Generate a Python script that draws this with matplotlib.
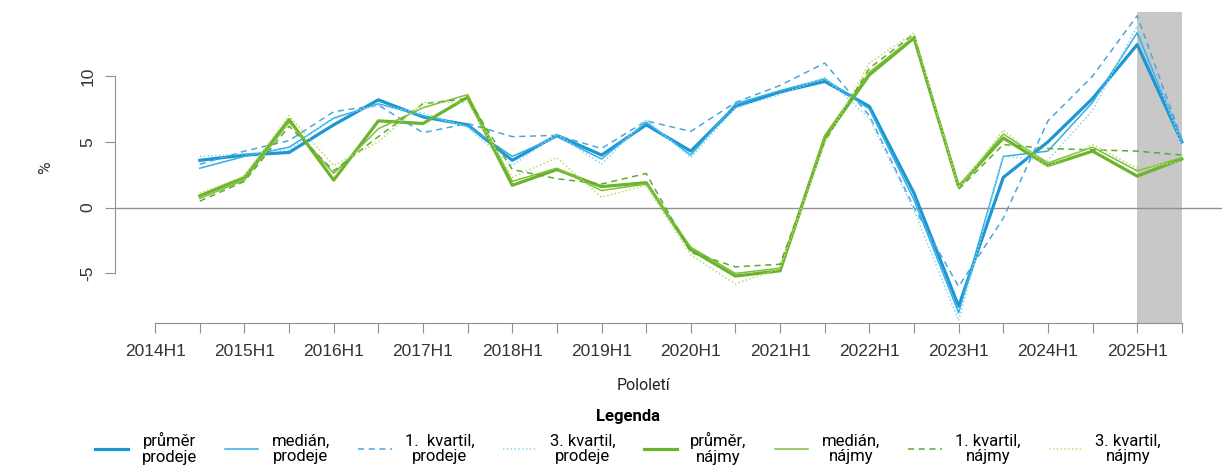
import numpy as np
import matplotlib
matplotlib.use("Agg")
import matplotlib.pyplot as plt

plt.rcParams['font.family'] = ['Roboto', 'DejaVu Sans']

# pololetí od 2014H1 (index 0), data od 2014H2 do 2025H2
obdobi = np.arange(1, 24)
tick_pos = np.arange(0, 24)
tick_labels = [f"{2014 + i // 2}H1" if i % 2 == 0 else "" for i in tick_pos]

prodej_prumer = [3.6, 4.0, 4.2, 6.3, 8.2, 6.9, 6.3, 3.6, 5.5, 4.0, 6.3, 4.3,
                 7.7, 8.8, 9.6, 7.7, 1.1, -7.5, 2.3, 5.0, 8.3, 12.4, 5.0]
prodej_median = [3.0, 3.9, 4.6, 6.8, 7.9, 7.0, 6.2, 3.9, 5.4, 3.7, 6.5, 4.0,
                 7.9, 8.9, 9.8, 7.5, 0.6, -8.0, 3.9, 4.3, 8.0, 13.3, 5.1]
prodej_q1 = [3.3, 4.3, 5.1, 7.3, 7.8, 5.7, 6.4, 5.4, 5.5, 4.5, 6.6, 5.8,
             8.0, 9.3, 11.0, 7.0, 0.0, -6.0, -0.8, 6.6, 10.0, 14.6, 5.2]
prodej_q3 = [3.9, 4.1, 4.4, 6.9, 7.8, 7.2, 6.1, 3.2, 5.6, 3.3, 6.7, 3.8,
             7.6, 8.6, 9.9, 6.8, -0.2, -8.6, 3.9, 3.6, 7.4, 13.8, 4.8]

najem_prumer = [0.9, 2.3, 6.7, 2.1, 6.6, 6.4, 8.4, 1.7, 2.9, 1.6, 1.9, -3.2,
                -5.2, -4.8, 5.3, 10.1, 12.9, 1.6, 5.3, 3.2, 4.3, 2.4, 3.7]
najem_median = [0.7, 2.1, 6.5, 2.6, 6.0, 7.6, 8.6, 2.0, 3.0, 1.3, 1.8, -3.0,
                -5.0, -4.6, 5.5, 10.3, 13.0, 1.6, 5.6, 3.4, 4.6, 2.8, 3.8]
najem_q1 = [0.5, 2.0, 6.2, 2.8, 5.4, 7.9, 8.3, 2.9, 2.2, 1.8, 2.6, -3.4,
            -4.5, -4.3, 5.0, 10.6, 13.2, 1.4, 4.8, 4.5, 4.4, 4.3, 4.0]
najem_q3 = [1.1, 2.4, 7.0, 3.2, 5.0, 8.0, 8.0, 2.3, 3.8, 0.8, 1.7, -3.6,
            -5.8, -4.6, 4.9, 11.0, 13.3, 1.5, 5.9, 3.1, 4.8, 3.0, 3.5]

series = [
    (prodej_prumer, "průměr\nprodeje", "#1c97d4", 2.3, "-"),
    (prodej_median, "medián,\nprodeje", "#33aee3", 1.1, "-"),
    (prodej_q1, "1.  kvartil,\nprodeje", "#4aa6dc", 1.1, (0, (4, 3))),
    (prodej_q3, "3. kvartil,\nprodeje", "#8ad3f2", 1.1, (0, (1, 1.5))),
    (najem_prumer, "průměr,\nnájmy", "#6cb32e", 2.3, "-"),
    (najem_median, "medián,\nnájmy", "#7cc03c", 1.1, "-"),
    (najem_q1, "1. kvartil,\nnájmy", "#5faa2a", 1.1, (0, (4, 3))),
    (najem_q3, "3. kvartil,\nnájmy", "#b9dc6a", 1.1, (0, (1, 1.5))),
]

fig = plt.figure(figsize=(12.25, 4.74), dpi=100)
ax = fig.add_axes([115 / 1225, 1 - 323 / 474, 1107 / 1225, 311 / 474])

ax.axvspan(22, 23, color="#c8c8c8", zorder=0, lw=0)
ax.axhline(0, color="#909090", lw=1, zorder=1)

for vals, lab, col, lw, ls in series:
    ax.plot(obdobi, vals, color=col, lw=lw, ls=ls, label=lab, zorder=3)

ax.set_xlim(-0.9, 23.9)
ax.set_ylim(-8.77, 14.88)

for s in ["top", "right"]:
    ax.spines[s].set_visible(False)
ax.spines["left"].set_bounds(-5, 10)
ax.spines["bottom"].set_bounds(0, 23)
for s in ["left", "bottom"]:
    ax.spines[s].set_color("#909090")

ax.set_xticks(tick_pos)
ax.set_xticklabels(tick_labels, family=["Liberation Sans", "DejaVu Sans"])
ax.set_yticks([-5, 0, 5, 10])
ax.set_yticklabels(["-5", "0", "5", "10"], rotation=90, va="center",
                   family=["Liberation Sans", "DejaVu Sans"])
ax.tick_params(axis="both", colors="#909090", length=7, labelcolor="#333333",
               labelsize=12.5)
ax.tick_params(axis="x", pad=8)
ax.tick_params(axis="y", pad=7)

ax.set_ylabel("%", fontsize=12.5, color="#333333", labelpad=20)
fig.text(643 / 1225, 1 - 386 / 474, "Pololetí", ha="center", va="center",
         fontsize=11.5, color="#222222")

leg = fig.legend(loc="center", bbox_to_anchor=(628 / 1225, 1 - 437 / 474), ncol=8,
                 frameon=False, fontsize=12, handlelength=2.0,
                 columnspacing=1.7, handletextpad=0.8,
                 title="Legenda", title_fontproperties={"weight": "bold", "size": 12})
for t in leg.get_texts():
    t.set_multialignment("center")
    t.set_linespacing(1.05)

fig.savefig("out.png", dpi=100)
